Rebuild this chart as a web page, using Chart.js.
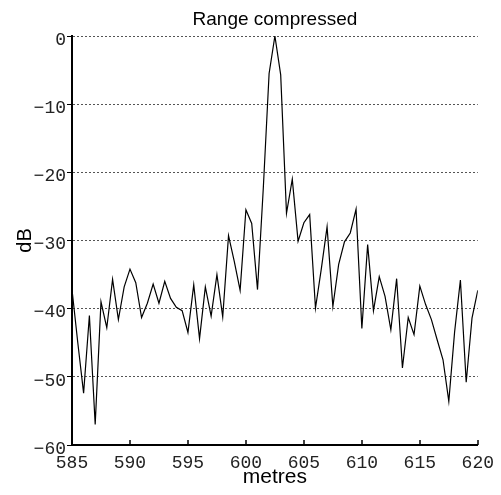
<!DOCTYPE html>
<html>
<head>
<meta charset="utf-8">
<title>Range compressed</title>
<script src="https://cdn.jsdelivr.net/npm/chart.js@4.4.1/dist/chart.umd.min.js"></script>
<style>
    html, body { margin: 0; padding: 0; background: #fff; }
    #wrap { width: 501px; height: 495px; }
</style>
</head>
<body>
<div id="wrap"><canvas id="rangeChart" width="501" height="495"></canvas></div>
<script>
// Range positions (metres), 0.5 m apart
const metres = [
    585.0, 585.5, 586.0, 586.5, 587.0, 587.5, 588.0, 588.5, 589.0, 589.5,
    590.0, 590.5, 591.0, 591.5, 592.0, 592.5, 593.0, 593.5, 594.0, 594.5,
    595.0, 595.5, 596.0, 596.5, 597.0, 597.5, 598.0, 598.5, 599.0, 599.5,
    600.0, 600.5, 601.0, 601.5, 602.0, 602.5, 603.0, 603.5, 604.0, 604.5,
    605.0, 605.5, 606.0, 606.5, 607.0, 607.5, 608.0, 608.5, 609.0, 609.5,
    610.0, 610.5, 611.0, 611.5, 612.0, 612.5, 613.0, 613.5, 614.0, 614.5,
    615.0, 615.5, 616.0, 616.5, 617.0, 617.5, 618.0, 618.5, 619.0, 619.5,
    620.0
];

// Compressed return (dB)
const levelDb = [
    -37.2, -45.0, -52.4, -41.0, -57.0, -39.0, -42.8, -35.7, -41.6, -36.8,
    -34.2, -36.2, -41.3, -39.2, -36.4, -39.2, -36.0, -38.5, -39.8, -40.3,
    -43.5, -36.5, -44.4, -36.8, -41.1, -35.0, -41.2, -29.3, -33.1, -37.3,
    -25.5, -27.5, -37.2, -22.3, -5.5, 0.0, -5.7, -26.0, -21.0, -30.1,
    -27.4, -26.2, -39.9, -34.2, -28.0, -39.7, -33.5, -30.2, -28.9, -25.4,
    -42.9, -30.6, -40.3, -35.3, -38.2, -43.1, -35.6, -48.7, -41.3, -43.8,
    -36.7, -39.4, -41.6, -44.6, -47.5, -53.6, -43.4, -35.8, -50.8, -41.4,
    -37.3
];

const xTicks = [585, 590, 595, 600, 605, 610, 615, 620];
const yTicks = [-60, -50, -40, -30, -20, -10, 0];

const monoFont = { family: "'Liberation Mono', 'Courier New', monospace", size: 18 };
const sansFont = "'Liberation Sans', Arial, sans-serif";

// small tick marks pointing up into the plot on the x axis
const innerTicks = {
    id: 'innerTicks',
    afterDraw(chart) {
        const x = chart.scales.x;
        const ctx = chart.ctx;
        ctx.save();
        ctx.strokeStyle = '#000';
        ctx.lineWidth = 1.5;
        xTicks.forEach(v => {
            const px = Math.round(x.getPixelForValue(v));
            ctx.beginPath();
            ctx.moveTo(px, x.top);
            ctx.lineTo(px, x.top - 5);
            ctx.stroke();
        });
        ctx.restore();
    }
};

document.addEventListener('DOMContentLoaded', () => {
    const ctx = document.getElementById('rangeChart').getContext('2d');
    new Chart(ctx, {
        type: 'line',
        data: {
            datasets: [{
                data: metres.map((m, i) => ({ x: m, y: levelDb[i] })),
                borderColor: '#000',
                borderWidth: 1.2,
                pointRadius: 0,
                tension: 0,
                fill: false
            }]
        },
        options: {
            responsive: false,
            animation: false,
            layout: { padding: 0 },
            plugins: {
                legend: { display: false },
                tooltip: { enabled: false },
                title: {
                    display: true,
                    fullSize: false,
                    text: 'Range compressed',
                    color: '#000',
                    font: { family: sansFont, size: 19, weight: 'normal', lineHeight: 1.2 },
                    padding: { top: 8, bottom: 5.2 }
                }
            },
            scales: {
                x: {
                    type: 'linear',
                    min: 585,
                    max: 620,
                    afterBuildTicks: scale => { scale.ticks = xTicks.map(v => ({ value: v })); },
                    afterFit: scale => { scale.height = 50; },
                    grid: { display: true, drawOnChartArea: false, drawTicks: false },
                    border: { display: true, color: '#000', width: 2 },
                    ticks: {
                        color: '#222',
                        font: monoFont,
                        padding: 7,
                        maxRotation: 0
                    },
                    title: {
                        display: true,
                        text: 'metres',
                        color: '#000',
                        font: { family: sansFont, size: 21, lineHeight: 1.2 },
                        padding: { top: 0, bottom: 5 }
                    }
                },
                y: {
                    type: 'linear',
                    min: -60,
                    max: 0,
                    afterBuildTicks: scale => { scale.ticks = yTicks.map(v => ({ value: v })); },
                    afterFit: scale => { scale.width = 72; },
                    grid: {
                        color: ctx => ctx.tick && ctx.tick.value === -60 ? 'rgba(0,0,0,0)' : '#555',
                        lineWidth: 1,
                        tickBorderDash: [],
                        tickColor: '#000',
                        tickWidth: 1,
                        tickLength: 5
                    },
                    border: { display: true, color: '#000', width: 2, dash: [2, 2] },
                    ticks: {
                        color: '#222',
                        font: monoFont,
                        padding: 1,
                        labelOffset: 4,
                        callback: v => String(v).replace('-', '\u2212')
                    },
                    title: {
                        display: true,
                        text: 'dB',
                        color: '#000',
                        font: { family: sansFont, size: 20, lineHeight: 1.2 },
                        padding: { top: 13, bottom: 0 }
                    }
                }
            }
        },
        plugins: [innerTicks]
    });
});
</script>
</body>
</html>
